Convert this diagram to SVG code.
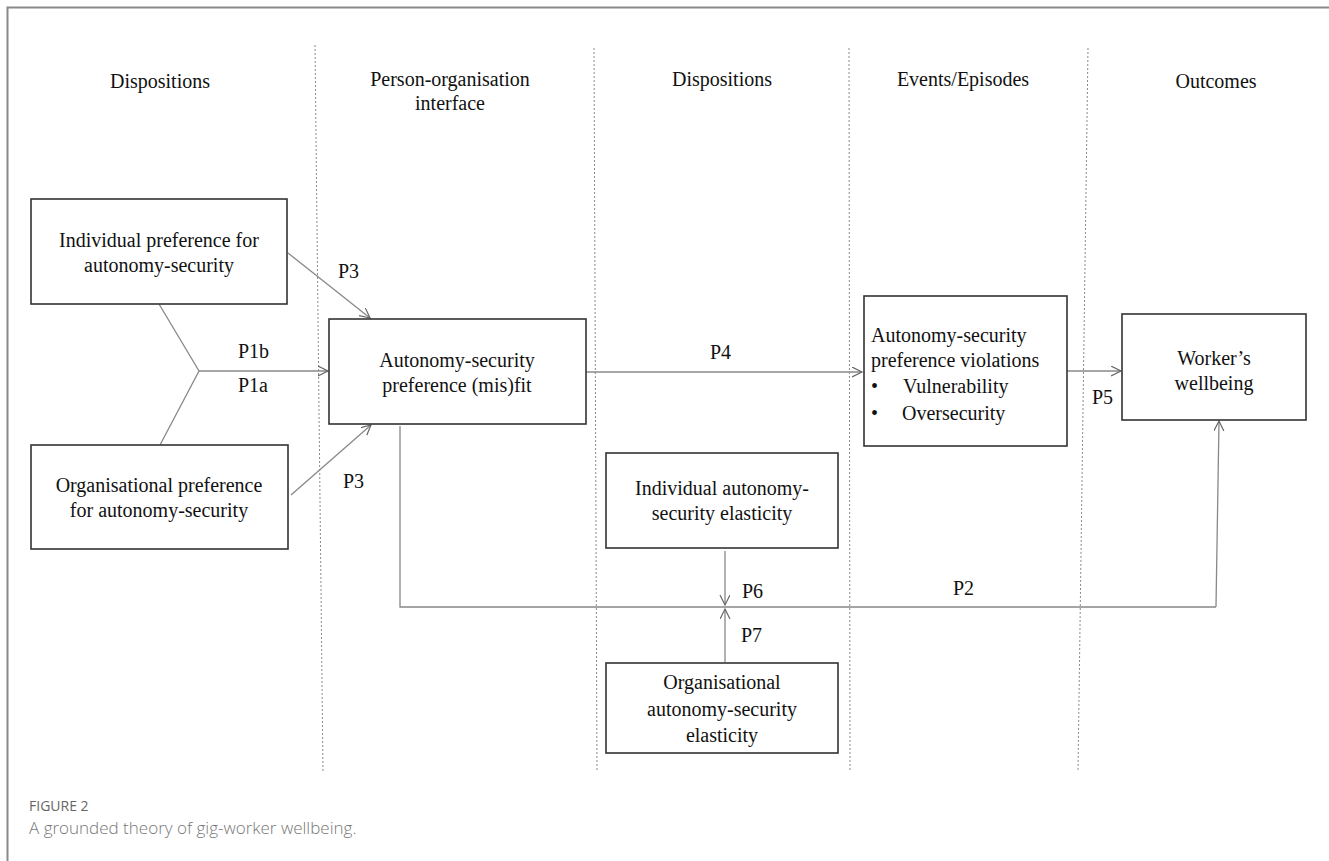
<svg xmlns="http://www.w3.org/2000/svg" width="1329" height="861" viewBox="0 0 1329 861">
<defs>
<style>
text.t{font-size:20px;fill:#111;}
.c{text-anchor:middle;}
.box{fill:#fff;stroke:#333;stroke-width:1.6;}
.div{stroke:#888;stroke-width:1;stroke-dasharray:2,2;fill:none;}
.ln{stroke:#888;stroke-width:1.3;fill:none;}
.cap1{font-size:14px;fill:#666;}
.cap2{font-size:17px;fill:#777;font-weight:300;}
</style>
<marker id="ah" markerWidth="12" markerHeight="12" refX="10" refY="5" orient="auto" markerUnits="userSpaceOnUse">
<path d="M0,0 L10,5 L0,10" fill="none" stroke="#666" stroke-width="1.2"/>
</marker>
</defs>
<rect width="1329" height="861" fill="#fff"/>
<path d="M7.5,861 V7.5 H1329" fill="none" stroke="#888" stroke-width="2"/>

<g id="dividers">
<line class="div" x1="315" y1="45" x2="323" y2="772"/>
<line class="div" x1="594" y1="48" x2="597" y2="772"/>
<line class="div" x1="849" y1="48" x2="850" y2="772"/>
<line class="div" x1="1088" y1="48" x2="1078" y2="772"/>
</g>

<g font-family="Times New Roman, Liberation Serif, Tinos, DejaVu Serif, serif">
<g id="headers">
<text class="t c" x="160" y="88">Dispositions</text>
<text class="t c" x="450" y="86">Person-organisation</text>
<text class="t c" x="450" y="110">interface</text>
<text class="t c" x="722" y="86">Dispositions</text>
<text class="t c" x="963" y="86">Events/Episodes</text>
<text class="t c" x="1216" y="88">Outcomes</text>
</g>

<g id="connectors">
<polyline class="ln" points="159,304 199,371 160,445"/>
<line class="ln" x1="199" y1="371" x2="328" y2="371" marker-end="url(#ah)"/>
<line class="ln" x1="288" y1="253" x2="370" y2="318" marker-end="url(#ah)"/>
<line class="ln" x1="291" y1="495" x2="371" y2="425" marker-end="url(#ah)"/>
<line class="ln" x1="586" y1="372" x2="862" y2="372" marker-end="url(#ah)"/>
<line class="ln" x1="1067" y1="371" x2="1121" y2="371" marker-end="url(#ah)"/>
<polyline class="ln" points="400,426 400,607 1216,607"/>
<line class="ln" x1="1216" y1="607" x2="1219" y2="421" marker-end="url(#ah)"/>
<line class="ln" x1="725" y1="551" x2="725" y2="605" marker-end="url(#ah)"/>
<line class="ln" x1="725" y1="662" x2="725" y2="609" marker-end="url(#ah)"/>
<text class="t" x="238" y="358">P1b</text>
<text class="t" x="238" y="392">P1a</text>
<text class="t" x="338" y="278">P3</text>
<text class="t" x="343" y="488">P3</text>
<text class="t" x="710" y="359">P4</text>
<text class="t" x="1092" y="404">P5</text>
<text class="t" x="953" y="595">P2</text>
<text class="t" x="742" y="598">P6</text>
<text class="t" x="741" y="642">P7</text>
</g>

<g id="node-individual-preference">
<rect class="box" x="31" y="199" width="256" height="105"/>
<text class="t c" x="159" y="247">Individual preference for</text>
<text class="t c" x="159" y="272">autonomy-security</text>
</g>

<g id="node-organisational-preference">
<rect class="box" x="31" y="445" width="257" height="104"/>
<text class="t c" x="159" y="492">Organisational preference</text>
<text class="t c" x="159" y="517">for autonomy-security</text>
</g>

<g id="node-fit">
<rect class="box" x="329" y="319" width="257" height="105"/>
<text class="t c" x="457" y="367">Autonomy-security</text>
<text class="t c" x="457" y="392">preference (mis)fit</text>
</g>

<g id="node-violations">
<rect class="box" x="864" y="296" width="203" height="150"/>
<text class="t" x="871" y="342">Autonomy-security</text>
<text class="t" x="871" y="367">preference violations</text>
<text class="t" x="871" y="393">•</text>
<text class="t" x="903" y="393">Vulnerability</text>
<text class="t" x="871" y="420">•</text>
<text class="t" x="902" y="420">Oversecurity</text>
</g>

<g id="node-wellbeing">
<rect class="box" x="1122" y="314" width="184" height="106"/>
<text class="t c" x="1214" y="365">Worker’s</text>
<text class="t c" x="1214" y="390">wellbeing</text>
</g>

<g id="node-individual-elasticity">
<rect class="box" x="606" y="453" width="232" height="95"/>
<text class="t c" x="722" y="495">Individual autonomy-</text>
<text class="t c" x="722" y="520">security elasticity</text>
</g>

<g id="node-organisational-elasticity">
<rect class="box" x="606" y="663" width="232" height="90"/>
<text class="t c" x="722" y="689">Organisational</text>
<text class="t c" x="722" y="716">autonomy-security</text>
<text class="t c" x="722" y="742">elasticity</text>
</g>
</g>

<g id="caption" font-family="Open Sans, Liberation Sans, sans-serif">
<text class="cap1" x="29" y="811">FIGURE 2</text>
<text class="cap2" x="29" y="834">A grounded theory of gig-worker wellbeing.</text>
</g>
</svg>
